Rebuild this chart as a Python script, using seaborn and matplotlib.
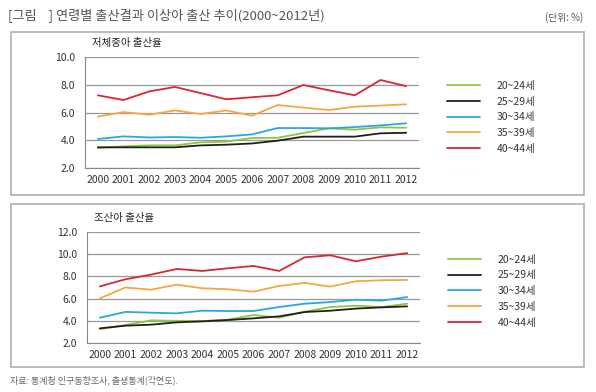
import matplotlib
matplotlib.use('Agg')
import matplotlib.pyplot as plt
from matplotlib.patches import Rectangle
from matplotlib.ticker import FixedLocator
import seaborn as sns
import pandas as pd

# years on the x axis
years = [str(y) for y in range(2000, 2013)]
groups = ['20~24세', '25~29세', '30~34세', '35~39세', '40~44세']
colors = ['#8dc63f', '#231f20', '#29a8e0', '#f7a541', '#d7282f']

# 저체중아 출산율 (low birth weight)
low_weight = {
    '20~24세': [3.46, 3.56, 3.63, 3.63, 3.85, 3.90, 4.16, 4.18, 4.52, 4.86, 4.76, 4.93, 4.90],
    '25~29세': [3.49, 3.49, 3.49, 3.49, 3.63, 3.68, 3.77, 3.97, 4.26, 4.26, 4.26, 4.50, 4.54],
    '30~34세': [4.09, 4.28, 4.20, 4.23, 4.18, 4.28, 4.42, 4.88, 4.88, 4.86, 4.95, 5.07, 5.22],
    '35~39세': [5.70, 6.03, 5.84, 6.15, 5.89, 6.15, 5.77, 6.54, 6.35, 6.18, 6.42, 6.50, 6.59],
    '40~44세': [7.24, 6.90, 7.52, 7.84, 7.40, 6.95, 7.10, 7.24, 7.98, 7.60, 7.24, 8.34, 7.90],
}

# 조산아 출산율 (preterm birth)
preterm = {
    '20~24세': [3.26, 3.62, 4.04, 4.00, 3.98, 4.10, 4.52, 4.28, 4.82, 5.24, 5.36, 5.24, 5.54],
    '25~29세': [3.32, 3.56, 3.65, 3.86, 3.95, 4.07, 4.22, 4.40, 4.79, 4.91, 5.10, 5.21, 5.30],
    '30~34세': [4.28, 4.80, 4.73, 4.67, 4.91, 4.88, 4.88, 5.24, 5.54, 5.69, 5.90, 5.81, 6.14],
    '35~39세': [6.02, 7.00, 6.80, 7.26, 6.93, 6.84, 6.62, 7.14, 7.41, 7.08, 7.56, 7.65, 7.68],
    '40~44세': [7.10, 7.74, 8.16, 8.67, 8.49, 8.73, 8.94, 8.49, 9.72, 9.90, 9.36, 9.78, 10.10],
}

sns.set_style('white')
plt.rcParams['font.family'] = ['Noto Sans CJK KR', 'DejaVu Sans']

fig = plt.figure(figsize=(5.96, 3.92), dpi=100)


def to_long(data):
    rows = []
    for g in groups:
        for i, v in enumerate(data[g]):
            rows.append({'x': i, 'year': years[i], 'group': g, 'value': v})
    return pd.DataFrame(rows)


def draw_panel(rect, data, ylim, yticks, label, legend_y):
    ax = fig.add_axes(rect)
    df = to_long(data)
    sns.lineplot(data=df, x='x', y='value', hue='group', hue_order=groups,
                 palette=colors, linewidth=1.3, ax=ax, legend=True)
    ax.set_xlim(-0.5, 12.5)
    ax.set_ylim(*ylim)
    ax.set_yticks(yticks)
    ax.set_yticklabels([f'{t:.1f}' for t in yticks], fontsize=7.5, color='#333333')
    ax.set_xticks(range(13))
    ax.set_xticklabels(years, fontsize=7.5, color='#333333')
    ax.xaxis.set_minor_locator(FixedLocator([i - 0.5 for i in range(14)]))
    ax.tick_params(axis='x', which='major', length=0, pad=5)
    ax.tick_params(axis='x', which='minor', length=4, color='#888888', width=0.8)
    ax.tick_params(axis='y', length=4, color='#888888', width=0.8, pad=3)
    ax.set_xlabel('')
    ax.set_ylabel('')
    ax.grid(axis='y', color='#999999', linewidth=0.9)
    ax.set_axisbelow(True)
    for s in ['top', 'right']:
        ax.spines[s].set_visible(False)
    for s in ['left', 'bottom']:
        ax.spines[s].set_color('#888888')
        ax.spines[s].set_linewidth(0.8)
    ax.text(0.02, 1.08, label, transform=ax.transAxes, fontsize=7.5,
            color='#222222', ha='left', va='bottom')
    handles, labels = ax.get_legend_handles_labels()
    ax.legend(handles, labels, loc='upper left', bbox_to_anchor=(1.055, legend_y),
              frameon=False, fontsize=7.5, handlelength=3.2, handletextpad=1.6,
              labelspacing=0.55, labelcolor='#333333')
    return ax


draw_panel([0.1426, 0.5714, 0.5604, 0.2832], low_weight, (2.0, 10.0),
           [2.0, 4.0, 6.0, 8.0, 10.0], '저체중아 출산율', 0.87)
draw_panel([0.146, 0.125, 0.5587, 0.2832], preterm, (2.0, 12.0),
           [2.0, 4.0, 6.0, 8.0, 10.0, 12.0], '조산아 출산율', 0.88)

# panel frames
W, H = 596, 392
for top, bottom in [(32, 195), (204, 367)]:
    fig.patches.append(Rectangle((11 / W, 1 - bottom / H), (584 - 11) / W, (bottom - top) / H,
                                 transform=fig.transFigure, fill=False,
                                 edgecolor='#b0b0b0', linewidth=1.2))

fig.text(8 / W, 1 - 15 / H, '[그림    ] 연령별 출산결과 이상아 출산 추이(2000~2012년)',
         fontsize=9.5, color='#555555', ha='left', va='center')
fig.text(583 / W, 1 - 18 / H, '(단위: %)', fontsize=7, color='#555555',
         ha='right', va='center')
fig.text(10 / W, 1 - 380 / H, '자료: 통계청 인구동향조사, 출생통계(각연도).',
         fontsize=6.5, color='#666666', ha='left', va='center')

fig.savefig('out.png', dpi=100)
